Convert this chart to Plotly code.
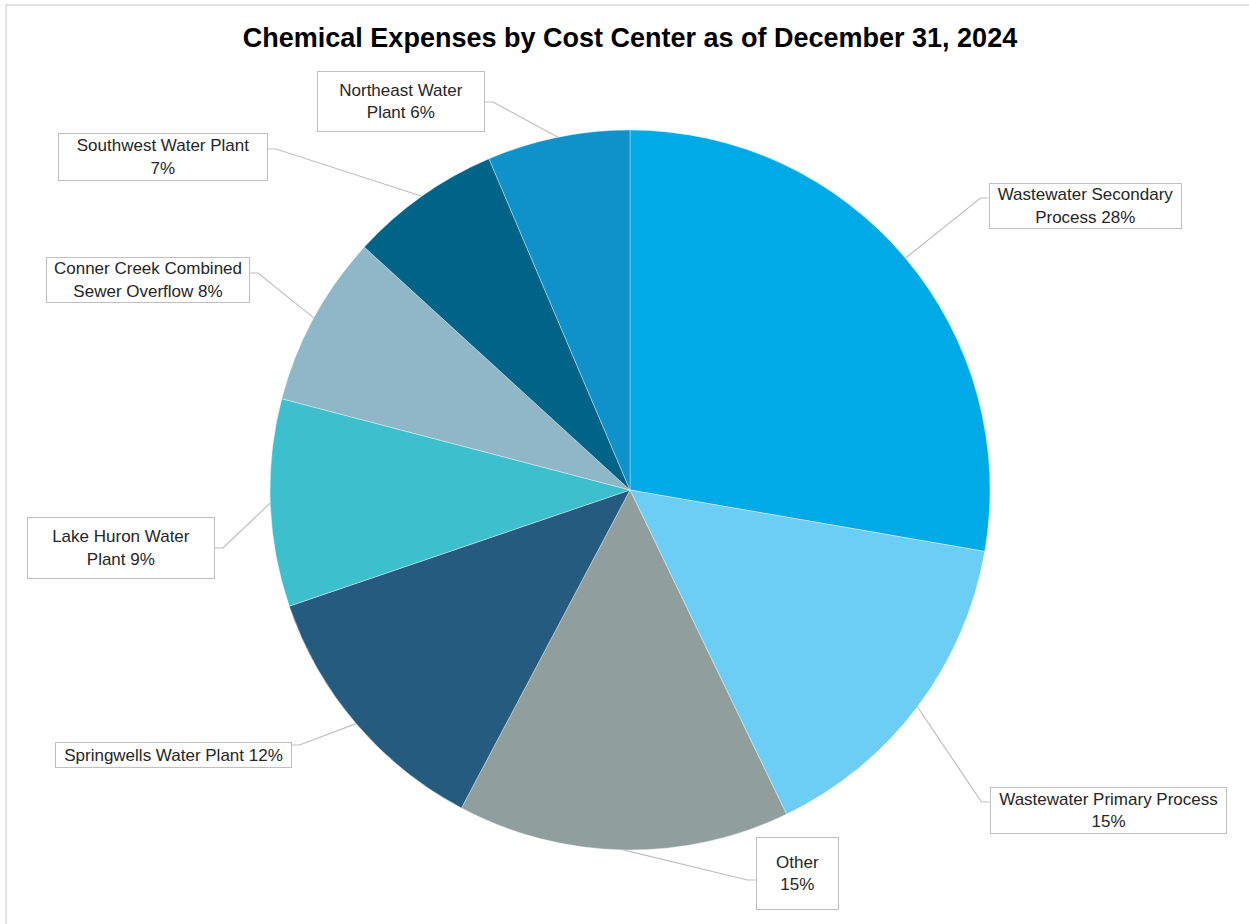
import math
import plotly.graph_objects as go

# ---------------- data ----------------
categories = [
    "Wastewater Secondary Process",
    "Wastewater Primary Process",
    "Other",
    "Springwells Water Plant",
    "Lake Huron Water Plant",
    "Conner Creek Combined Sewer Overflow",
    "Southwest Water Plant",
    "Northeast Water Plant",
]
values = [27.7, 15.1, 14.9, 12.0, 9.3, 7.7, 6.8, 6.4]
label_text = [
    "Wastewater Secondary<br>Process",
    "Wastewater Primary Process<br>",
    "Other<br>",
    "Springwells Water Plant",
    "Lake Huron Water<br>Plant",
    "Conner Creek Combined<br>Sewer Overflow ",
    "Southwest Water Plant<br>",
    "Northeast Water<br>Plant",
]
title_text = "<b>Chemical Expenses by Cost Center as of December 31, 2024</b>"

# ---------------- style / layout ----------------
colors = ["#00AAE6", "#6CCDF5", "#909F9E", "#245B7E",
          "#3EBFCE", "#8FB7C8", "#006489", "#0E92C9"]
W, H = 1249, 924
CX, CY, R = 630, 490, 360
# label boxes: centre x, centre y, width, height, leader anchor y offset (pixels)
box_layout = [
    (1085, 206, 193, 46, -8),
    (1108, 810, 237, 47, -8),
    (797, 873, 83, 73, 7),
    (173, 755, 237, 26, -10),
    (121, 548, 188, 62, 0),
    (148, 280, 204, 46, -7),
    (163, 157, 210, 48, -8),
    (401, 102, 168, 61, 0),
]
FONT = "Arial, Liberation Sans, sans-serif"
TEXT_COLOR = "#262626"
LINE_COLOR = "#BFBFBF"


def px(x):
    return x / W


def py(y):
    return 1 - y / H


fig = go.Figure()
fig.add_trace(go.Pie(
    labels=categories,
    values=values,
    sort=False,
    direction="clockwise",
    rotation=0,
    textinfo="none",
    hoverinfo="label+percent",
    marker=dict(colors=colors, line=dict(color="rgba(255,255,255,0.6)", width=0.6)),
    showlegend=False,
    domain=dict(x=[px(CX - R), px(CX + R)], y=[py(CY + R), py(CY - R)]),
))

total = sum(values)
cum = 0.0
annotations = []
shapes = []
for i, v in enumerate(values):
    mid = (cum + v / 2) / total * 2 * math.pi
    cum += v
    pct = round(v / total * 100)
    lt = label_text[i]
    txt = f"{lt}{pct}%" if lt.endswith("<br>") else f"{lt.rstrip()} {pct}%"
    bx, by, bw, bh, ady = box_layout[i]
    annotations.append(dict(
        x=px(bx), y=py(by), xref="paper", yref="paper",
        xanchor="center", yanchor="middle", showarrow=False,
        text=txt, align="center", valign="middle",
        font=dict(family=FONT, size=17, color=TEXT_COLOR),
        width=bw - 2, height=bh - 2, borderpad=0,
        bordercolor=LINE_COLOR, borderwidth=1, bgcolor="white",
    ))
    sx = CX + R * math.sin(mid)
    sy = CY - R * math.cos(mid)
    if bx > CX:
        ex = bx - bw / 2
        elx = ex - 8
    else:
        ex = bx + bw / 2
        elx = ex + 8
    ey = by + ady
    shapes.append(dict(
        type="path", xref="paper", yref="paper",
        path=f"M {px(sx)},{py(sy)} L {px(elx)},{py(ey)} L {px(ex)},{py(ey)}",
        line=dict(color=LINE_COLOR, width=1.2),
    ))

shapes.append(dict(
    type="rect", xref="paper", yref="paper", layer="below",
    x0=px(6), y0=-0.02, x1=1.02, y1=py(5),
    line=dict(color="#D9D9D9", width=1.5), fillcolor="rgba(0,0,0,0)",
))

fig.update_layout(
    width=W, height=H,
    margin=dict(l=0, r=0, t=0, b=0),
    paper_bgcolor="white", plot_bgcolor="white",
    title=dict(text=title_text, x=px(630), xanchor="center", y=py(38), yanchor="middle",
               xref="paper", yref="paper",
               font=dict(family=FONT, size=27, color="black")),
    annotations=annotations,
    shapes=shapes,
)

fig.write_html("out.html")
